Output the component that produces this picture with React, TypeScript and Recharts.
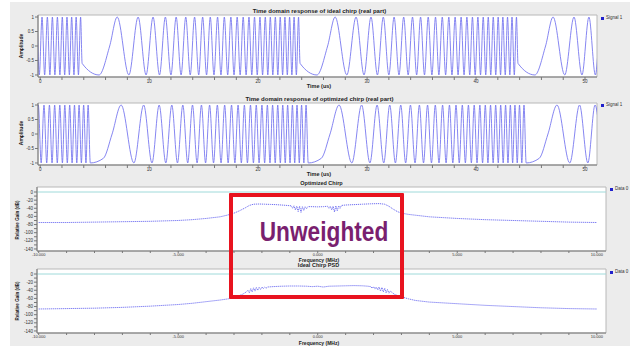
import React from "react"
import { LineChart, Line, XAxis, YAxis, CartesianGrid, ReferenceArea, ReferenceLine } from "recharts"

// time domain: extremum positions inside one chirp period (us from segment start) and their values
const IDEAL_OFFSETS = [
  0, 1.55, 2.53, 3.22, 4.29, 5.14, 5.87, 6.51, 7.1, 7.64, 8.15, 8.63, 9.08, 9.51, 9.92, 10.32,
  10.7, 11.06, 11.42, 11.76, 12.1, 12.43, 12.74, 13.05, 13.36, 13.65, 13.94, 14.23, 14.5, 14.78,
  15.05, 15.31, 15.57, 15.82, 16.07, 16.32, 16.56, 16.81, 17.04, 17.27, 17.5, 17.73, 17.96, 18.18,
  18.4, 18.61, 18.83, 19.04, 19.25, 19.45, 19.66, 19.86,
]
const IDEAL_VALUES = [
  -0.6, -1, 0, 1, -1, 1, -1, 1, -1, 1, -1, 1, -1, 1, -1, 1,
  -1, 1, -1, 1, -1, 1, -1, 1, -1, 1, -1, 1, -1, 1,
  -1, 1, -1, 1, -1, 1, -1, 1, -1, 1, -1, 1, -1, 1,
  -1, 1, -1, 1, -1, 1, -1, 1,
]
const IDEAL_STARTS = [-16.15, 3.85, 23.85, 43.85]

const OPT_OFFSETS = [
  0, 1.2, 2.0, 2.83, 4.0, 4.9, 5.66, 6.32, 6.93, 7.48, 8.0, 8.49, 8.94, 9.38, 9.8, 10.2,
  10.58, 10.95, 11.31, 11.66, 12.0, 12.33, 12.65, 12.96, 13.27, 13.56, 13.86, 14.14, 14.42, 14.7,
  14.97, 15.23, 15.49, 15.75, 16.0, 16.25, 16.49, 16.73, 16.97, 17.2, 17.44, 17.66, 17.89, 18.11,
  18.33, 18.55, 18.76, 18.97, 19.18, 19.39, 19.6, 19.8,
]
const OPT_VALUES = [
  -1, -0.84, 0, 1, -1, 1, -1, 1, -1, 1, -1, 1, -1, 1, -1, 1,
  -1, 1, -1, 1, -1, 1, -1, 1, -1, 1, -1, 1, -1, 1,
  -1, 1, -1, 1, -1, 1, -1, 1, -1, 1, -1, 1, -1, 1,
  -1, 1, -1, 1, -1, 1, -1, 1,
]
const OPT_STARTS = [-15.4, 4.6, 24.6, 44.6]

const TIME_TICKS = [0, 2, 4, 6, 8, 10, 12, 14, 16, 18, 20, 22, 24, 26, 28, 30, 32, 34, 36, 38, 40, 42, 44, 46, 48, 50]
const AMP_TICKS = [-1, -0.5, 0, 0.5, 1]

// spectra (MHz, dB)
const OPT_FREQ = [
  -10, -9, -8, -7, -6, -5, -4.5, -4, -3.5, -3.25, -3, -2.8, -2.6, -2.45, -2.3, -2.1, -1.9, -1.7, -1.5, -1.3, -1.1,
  -0.95, -0.9, -0.85, -0.8, -0.75, -0.7, -0.65, -0.6, -0.55, -0.5, -0.45, -0.4, -0.35,
  -0.2, 0, 0.2,
  0.35, 0.4, 0.45, 0.5, 0.55, 0.6, 0.65, 0.7, 0.75, 0.8, 0.85,
  1.0, 1.3, 1.6, 1.9, 2.2, 2.4, 2.55, 2.7, 2.85, 3.0, 3.25, 3.5, 4, 4.5, 5, 6, 7, 8, 9, 10,
]
const OPT_DB = [
  -75, -75, -74, -73, -72, -70, -68, -65, -61, -57, -52, -46, -39, -33, -30, -29.5, -30, -30.5, -31, -32, -33,
  -34, -40, -34, -44, -35, -48, -35, -50, -36, -45, -36, -41, -36,
  -36, -36.5, -36,
  -35, -40, -35, -44, -35, -49, -34, -46, -34, -40, -33,
  -32, -31, -30, -29, -28.5, -30, -35, -42, -48, -52, -55, -57, -61, -63, -65, -68, -70, -72, -74, -75,
]

const IDEAL_FREQ = [
  -10, -9, -8, -7, -6, -5, -4.5, -4, -3.5, -3.2, -3.0, -2.85, -2.7, -2.6,
  -2.5, -2.45, -2.4, -2.35, -2.3, -2.25, -2.2, -2.15, -2.1, -2.05, -2.0, -1.95, -1.9, -1.85, -1.8,
  -1.6, -1.3, -1.0, -0.7, -0.4, -0.2, 0, 0.2, 0.4, 0.7, 1.0, 1.3, 1.6, 1.8,
  1.9, 1.95, 2.0, 2.05, 2.1, 2.15, 2.2, 2.25, 2.3, 2.35, 2.4, 2.45, 2.5, 2.55, 2.6,
  2.75, 2.9, 3.0, 3.25, 3.5, 4, 4.5, 5, 6, 7, 8, 9, 10,
]
const IDEAL_DB = [
  -86, -85, -84, -82, -79, -75, -72, -68, -64, -61, -58, -54, -50, -46,
  -40, -46, -36, -44, -34, -42, -33, -40, -33, -38, -32, -36, -32, -35, -32,
  -31, -30, -29.5, -29.5, -30, -31, -30, -32, -30, -29.5, -29, -28.5, -29, -30,
  -31, -35, -31, -37, -32, -39, -32, -42, -33, -44, -35, -46, -38, -47, -42,
  -50, -54, -56, -61, -65, -69, -71, -73, -77, -80, -83, -85, -86,
]

const FREQ_TICKS = [-10, -9, -8, -7, -6, -5, -4, -3, -2, -1, 0, 1, 2, 3, 4, 5, 6, 7, 8, 9, 10]
const DB_TICKS = [0, -10, -20, -30, -40, -50, -60, -70, -80, -90, -100, -110, -120, -130, -140]

const FONT = "'Liberation Sans', Arial, sans-serif"
const LINE_BLUE = "#7070ee"
const tickStyle = { fontSize: 4.5, fill: "#333", fontFamily: FONT }
const smallTick = { fontSize: 4, fill: "#333", fontFamily: FONT }

function buildChirp(starts: number[], offsets: number[], values: number[]) {
  const rows: { t: number; v: number }[] = []
  starts.forEach((s) => {
    offsets.forEach((o, i) => {
      const t = s + o
      if (t >= -1 && t <= 52) rows.push({ t: +t.toFixed(2), v: values[i] })
    })
  })
  return rows
}

const idealData = buildChirp(IDEAL_STARTS, IDEAL_OFFSETS, IDEAL_VALUES)
const optData = buildChirp(OPT_STARTS, OPT_OFFSETS, OPT_VALUES)
const optSpec = OPT_FREQ.map((f, i) => ({ f, db: OPT_DB[i] }))
const idealSpec = IDEAL_FREQ.map((f, i) => ({ f, db: IDEAL_DB[i] }))

function TimePanel({ top, data }: { top: number; data: { t: number; v: number }[] }) {
  const xd: [number, number] = [-0.2, 51.1]
  const yd: [number, number] = [-1.07, 1.07]
  return (
    <div style={{ position: "absolute", left: 0, top }}>
      <LineChart width={634} height={92} data={data} margin={{ top: 15, right: 37, bottom: 0, left: 0 }}>
        <CartesianGrid horizontal={false} vertical={false} fill="#fff" />
        <XAxis
          dataKey="t" type="number" domain={xd} allowDataOverflow ticks={TIME_TICKS} interval={0}
          tickFormatter={(v) => (v % 10 === 0 ? String(v) : "")}
          height={15} tickSize={3} tickMargin={0} tick={tickStyle} stroke="#777"
        />
        <YAxis
          type="number" domain={yd} allowDataOverflow ticks={AMP_TICKS} interval={0}
          width={38} tickSize={3} tickMargin={1} tick={tickStyle} stroke="#777"
        />
        <ReferenceArea x1={xd[0]} x2={xd[1]} y1={yd[0]} y2={yd[1]} fill="none" stroke="#b8b8b8" ifOverflow="visible" />
        <Line dataKey="v" type="monotone" dot={false} stroke={LINE_BLUE} strokeWidth={0.85} isAnimationActive={false} />
      </LineChart>
    </div>
  )
}

function FreqPanel({ top, data }: { top: number; data: { f: number; db: number }[] }) {
  const xd: [number, number] = [-10.06, 10.33]
  const yd: [number, number] = [-145, 12.3]
  return (
    <div style={{ position: "absolute", left: 0, top }}>
      <LineChart width={634} height={94} data={data} margin={{ top: 15, right: 28, bottom: 0, left: 0 }}>
        <CartesianGrid horizontal={false} vertical={false} fill="#fff" />
        <XAxis
          dataKey="f" type="number" domain={xd} allowDataOverflow ticks={FREQ_TICKS} interval={0}
          tickFormatter={(v) => (v % 5 === 0 ? v.toFixed(3) : "")}
          height={15} tickSize={2} tickMargin={0} tick={smallTick} stroke="#777"
        />
        <YAxis
          type="number" domain={yd} allowDataOverflow ticks={DB_TICKS} interval={0}
          tickFormatter={(v) => (v % 20 === 0 ? String(v) : "")}
          width={37} tickSize={3} tickMargin={1} tick={tickStyle} stroke="#777"
        />
        <ReferenceArea x1={xd[0]} x2={xd[1]} y1={yd[0]} y2={yd[1]} fill="none" stroke="#b8b8b8" ifOverflow="visible" />
        <ReferenceLine y={0} stroke="#9fdada" strokeWidth={1} />
        <Line
          dataKey="db" type="linear" dot={false} stroke="#7272f2" strokeWidth={1}
          strokeDasharray="1.2 0.8" isAnimationActive={false}
        />
      </LineChart>
    </div>
  )
}

function Txt({ x, y, children, size = 5, bold = true, rotate = 0 }: any) {
  return (
    <div
      style={{
        position: "absolute", left: x, top: y, whiteSpace: "nowrap",
        transform: `translate(-50%, -50%) rotate(${rotate}deg)`,
        fontSize: size, fontWeight: bold ? 700 : 400, color: "#222", lineHeight: 1,
      }}
    >
      {children}
    </div>
  )
}

function LegendItem({ x, y, label }: { x: number; y: number; label: string }) {
  return (
    <div style={{ position: "absolute", left: x, top: y - 3, display: "flex", alignItems: "center", height: 6 }}>
      <div style={{ width: 3, height: 3, background: "#2020cc", marginRight: 2 }} />
      <span style={{ fontSize: 4.5, color: "#333", lineHeight: 1 }}>{label}</span>
    </div>
  )
}

export default function App() {
  return (
    <div
      style={{
        position: "fixed", left: 0, top: 0, width: 634, height: 348, background: "#fff",
        overflow: "hidden", fontFamily: FONT,
      }}
    >
      <div style={{ position: "absolute", left: 10, top: 2, width: 620, height: 344, background: "#ececec" }} />

      <TimePanel top={0} data={idealData} />
      <TimePanel top={88} data={optData} />
      <FreqPanel top={172} data={optSpec} />
      <FreqPanel top={254} data={idealSpec} />

      <Txt x={319.5} y={11} size={6}>Time domain response of ideal chirp (real part)</Txt>
      <Txt x={20.5} y={46} rotate={-90}>Amplitude</Txt>
      <Txt x={319} y={86.5} size={5.5}>Time (us)</Txt>
      <LegendItem x={601} y={18.5} label="Signal 1" />

      <Txt x={319.5} y={98.5} size={6}>Time domain response of optimized chirp (real part)</Txt>
      <Txt x={20.5} y={133} rotate={-90}>Amplitude</Txt>
      <Txt x={319} y={174.5} size={5.5}>Time (us)</Txt>
      <LegendItem x={601} y={105.5} label="Signal 1" />

      <Txt x={321.5} y={183.5} size={5.5}>Optimized Chirp</Txt>
      <Txt x={17.5} y={220} rotate={-90} size={4.5}>Relative Gain (dB)</Txt>
      <Txt x={319} y={260} size={5}>Frequency (MHz)</Txt>
      <LegendItem x={610} y={189.5} label="Data 0" />

      <Txt x={318.5} y={266} size={5.5}>Ideal Chirp PSD</Txt>
      <Txt x={17.5} y={301} rotate={-90} size={4.5}>Relative Gain (dB)</Txt>
      <Txt x={319} y={342.5} size={5}>Frequency (MHz)</Txt>
      <LegendItem x={610} y={272} label="Data 0" />

      <div
        style={{
          position: "absolute", left: 229, top: 193, width: 175, height: 106,
          border: "4.5px solid #e8131f", boxSizing: "border-box", borderRadius: 1,
        }}
      />
      <div
        style={{
          position: "absolute", left: 323.5, top: 232, transform: "translate(-50%, -50%) scaleX(0.84)",
          fontSize: 27, fontWeight: 700, color: "#7a1f6f", whiteSpace: "nowrap", lineHeight: 1,
        }}
      >
        Unweighted
      </div>
    </div>
  )
}
